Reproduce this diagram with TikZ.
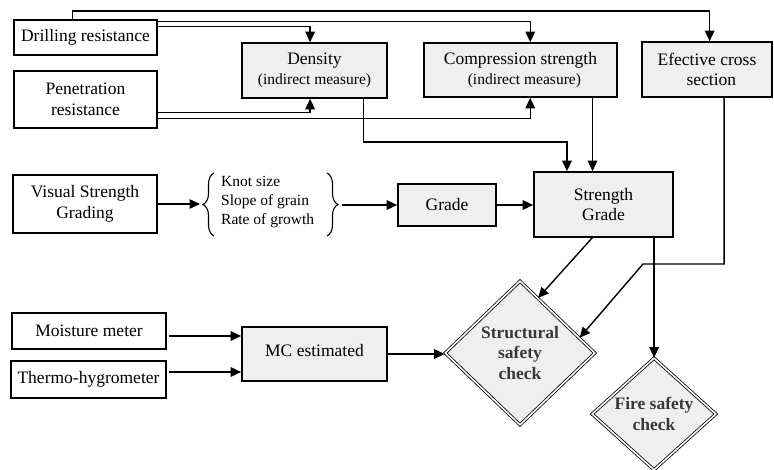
\documentclass[tikz,border=0pt]{standalone}
\usepackage{fontspec}
\setmainfont{Liberation Serif}
\usetikzlibrary{shapes.geometric,arrows.meta,calc,decorations.pathreplacing}
\definecolor{procgray}{HTML}{EFEFEF}
\begin{document}
\begin{tikzpicture}[x=1pt,y=-1pt,
  every node/.style={font=\fontsize{17.5}{20.5}\selectfont, align=center, inner sep=1pt},
  inbox/.style={draw, line width=1.3pt, fill=white},
  procbox/.style={draw, line width=1.6pt, fill=procgray},
  arr/.style={line width=1.4pt, -{Triangle[length=10.5pt,width=9.5pt]}},
  ln/.style={line width=1.1pt},
  check/.style={diamond, draw, double, double distance=1.6pt, line width=0.8pt, fill=procgray, inner sep=0pt, font=\fontsize{17.5}{20.5}\selectfont\bfseries, text=black!78}
]
\useasboundingbox (0,0) rectangle (774,469);

\node[inbox, minimum width=143pt, minimum height=35pt] (drill) at (85.5,37.5) {Drilling resistance};
\node[inbox, minimum width=143pt, minimum height=57pt] (pen) at (85.5,99.5) {Penetration\\resistance};
\node[procbox, minimum width=145pt, minimum height=55pt] (dens) at (314.5,70.5) {Density\\{\fontsize{15.5}{18}\selectfont (indirect measure)}};
\node[procbox, minimum width=193pt, minimum height=54pt] (comp) at (520.5,70) {Compression strength\\{\fontsize{15.5}{18}\selectfont\ \ (indirect measure)}};
\node[procbox, minimum width=130pt, minimum height=55pt] (eff) at (707,69.5) {Efective cross\\\ \ section};
\node[inbox, minimum width=144pt, minimum height=58pt] (vsg) at (85,204) {Visual Strength\\Grading};
\node[align=left, anchor=west, font=\fontsize{15.5}{19}\selectfont] (items) at (220,202) {Knot size\\Slope of grain\\Rate of growth};
\node[procbox, minimum width=98pt, minimum height=42pt] (grade) at (447,205) {Grade};
\node[procbox, minimum width=139pt, minimum height=65pt] (sg) at (603.5,204.5) {Strength\\Grade};
\node[inbox, minimum width=154pt, minimum height=36pt] (mm) at (89,331) {Moisture meter};
\node[inbox, minimum width=155pt, minimum height=37pt] (th) at (88.5,379.5) {Thermo-hygrometer};
\node[procbox, minimum width=145pt, minimum height=54pt] (mc) at (314.5,354) {\raisebox{7pt}{MC estimated}};
\node[check, minimum width=150pt, minimum height=144pt] (ssc) at (520,353) {Structural\\safety\\check};
\node[check, minimum width=124pt, minimum height=112pt] (fsc) at (654,414) {Fire safety\\check};

% braces
\coordinate (lb1) at (214,236);
\coordinate (lb2) at (214,173);
\coordinate (rb1) at (327,173);
\coordinate (rb2) at (327,236);
\draw[ln, decorate, decoration={brace, amplitude=11pt}] (lb1) -- (lb2);
\draw[ln, decorate, decoration={brace, amplitude=11pt}] (rb1) -- (rb2);
\coordinate (bt1) at (200,204);
\coordinate (bt2) at (342,205);

% helper coordinates
\coordinate (topy) at (0,11);
\coordinate (midy) at (0,142);
\coordinate (ey) at (0,264);
\coordinate (ex) at (643,264);
\coordinate (d0) at ($(drill.north west)!0.41!(drill.north east)$);
\coordinate (e0) at ($(eff.north west)!0.52!(eff.north east)$);
\coordinate (c0) at ($(comp.north west)!0.55!(comp.north east)$);
\coordinate (c1) at ($(comp.south west)!0.55!(comp.south east)$);
\coordinate (c2) at ($(comp.south west)!0.87!(comp.south east)$);
\coordinate (dn0) at ($(dens.north west)!0.47!(dens.north east)$);
\coordinate (dn1) at ($(dens.south west)!0.47!(dens.south east)$);
\coordinate (dn2) at ($(dens.south west)!0.835!(dens.south east)$);
\coordinate (s1) at ($(sg.north west)!0.24!(sg.north east)$);
\coordinate (e2) at ($(eff.south west)!0.63!(eff.south east)$);
\coordinate (f0) at ($(sg.south west)!0.86!(sg.south east)$);
\coordinate (g0) at ($(sg.south west)!0.42!(sg.south east)$);
\coordinate (sa) at ($(ssc.north)!0.24!(ssc.east)$);
\coordinate (sb) at ($(ssc.north)!0.79!(ssc.east)$);

% connectors
\draw[arr] (d0) -- (d0 |- topy) -| (e0);
\draw[arr] ([yshift=-2pt]drill.north east) -| (c0);
\draw[arr] ([yshift=-7pt]drill.north east) -| (dn0);
\draw[arr] ([yshift=16pt]pen.south east) -| (dn1);
\draw[arr] ([yshift=10pt]pen.south east) -| (c1);
\draw[arr] (dn2) -- (dn2 |- midy) -| (s1);
\draw[arr] (c2) -- (c2 |- sg.north);
\draw[arr] (e2) -- (e2 |- ey) -- (ex) -- (sb);
\draw[arr] (vsg.east) -- (bt1);
\draw[arr] (bt2) -- (bt2 -| grade.west);
\draw[arr] (grade.east) -- (grade.east -| sg.west);
\draw[arr] (g0) -- (sa);
\draw[arr] (f0) -- (f0 |- fsc.north);
\draw[arr] ([yshift=-5pt,xshift=2pt]mm.east) -- ([yshift=-5pt]mm.east -| mc.west);
\draw[arr] ([yshift=7.5pt,xshift=2pt]th.east) -- ([yshift=7.5pt]th.east -| mc.west);
\draw[arr] (mc.east) -- (mc.east -| ssc.west);
\end{tikzpicture}
\end{document}
